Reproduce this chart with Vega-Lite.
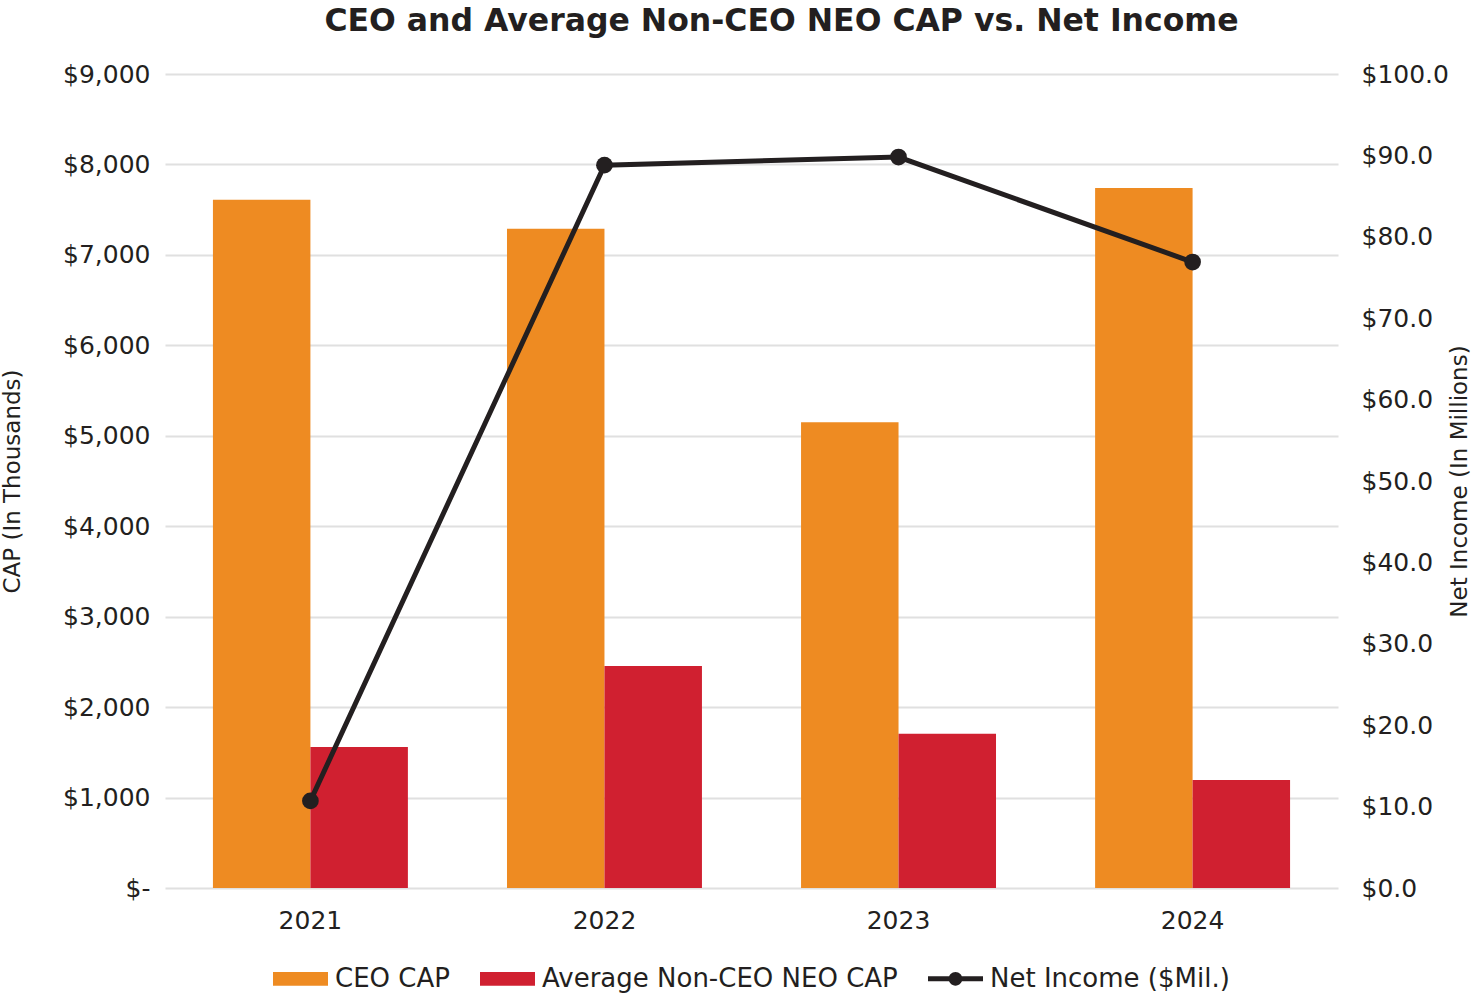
{
  "$schema": "https://vega.github.io/schema/vega-lite/v6.json",
  "autosize": "none",
  "width": 1173,
  "height": 814,
  "padding": {"left": 165, "top": 74, "right": 136, "bottom": 106},
  "background": "white",
  "title": {
    "text": "CEO and Average Non-CEO NEO CAP vs. Net Income",
    "font": "DejaVu Sans",
    "fontSize": 31.5,
    "fontWeight": "bold",
    "color": "#231F20",
    "anchor": "middle",
    "dx": 30,
    "offset": 25
  },
  "data": {
    "values": [
      {"year": "2021", "series": "CEO CAP", "value": 7610},
      {"year": "2022", "series": "CEO CAP", "value": 7290},
      {"year": "2023", "series": "CEO CAP", "value": 5150},
      {"year": "2024", "series": "CEO CAP", "value": 7740},
      {"year": "2021", "series": "Average Non-CEO NEO CAP", "value": 1560},
      {"year": "2022", "series": "Average Non-CEO NEO CAP", "value": 2455},
      {"year": "2023", "series": "Average Non-CEO NEO CAP", "value": 1705},
      {"year": "2024", "series": "Average Non-CEO NEO CAP", "value": 1195},
      {"year": "2021", "series": "Net Income ($Mil.)", "value": 10.7},
      {"year": "2022", "series": "Net Income ($Mil.)", "value": 88.8},
      {"year": "2023", "series": "Net Income ($Mil.)", "value": 89.8},
      {"year": "2024", "series": "Net Income ($Mil.)", "value": 76.9}
    ]
  },
  "encoding": {
    "x": {
      "field": "year",
      "type": "nominal",
      "scale": {"paddingInner": 0.337, "paddingOuter": 0.163},
      "axis": {
        "title": null,
        "labelAngle": 0,
        "labelFont": "DejaVu Sans",
        "labelFontSize": 25,
        "labelColor": "#231F20",
        "labelPadding": 20,
        "ticks": false,
        "domain": false
      }
    },
    "color": {
      "field": "series",
      "type": "nominal",
      "scale": {
        "domain": ["CEO CAP", "Average Non-CEO NEO CAP", "Net Income ($Mil.)"],
        "range": ["#EE8B22", "#D02030", "#231F20"]
      },
      "legend": {
        "title": null,
        "orient": "bottom",
        "direction": "horizontal",
        "offset": 18,
        "labelFont": "DejaVu Sans",
        "labelFontSize": 26,
        "labelColor": "#231F20",
        "labelOffset": 7,
        "labelLimit": 500,
        "columnPadding": 30,
        "symbolSize": 3025,
        "symbolStrokeWidth": 0,
        "encode": {
          "symbols": {
            "update": {
              "shape": {"signal": "datum.value === 'Net Income ($Mil.)' ? 'M-1,-0.09H1V0.09H-1Z M0.25,0A0.25,0.25 0 1,1 -0.25,0A0.25,0.25 0 1,1 0.25,0Z' : 'M-1,-0.25H1V0.25H-1Z'"},
              "fill": {"signal": "scale('color', datum.value)"},
              "fillOpacity": {"value": 1},
              "strokeWidth": {"value": 0}
            }
          }
        }
      }
    }
  },
  "layer": [
    {
      "transform": [{"filter": "datum.series !== 'Net Income ($Mil.)'"}],
      "mark": {"type": "bar"},
      "encoding": {
        "xOffset": {
          "field": "series",
          "type": "nominal",
          "scale": {"domain": ["CEO CAP", "Average Non-CEO NEO CAP"], "paddingInner": 0, "paddingOuter": 0}
        },
        "y": {
          "field": "value",
          "type": "quantitative",
          "scale": {"domain": [0, 9000], "nice": false},
          "axis": {
            "title": "CAP (In Thousands)",
            "titleFont": "DejaVu Sans",
            "titleFontSize": 23,
            "titleFontWeight": "normal",
            "titleColor": "#231F20",
            "titleX": -141,
            "values": [0, 1000, 2000, 3000, 4000, 5000, 6000, 7000, 8000, 9000],
            "labelExpr": "datum.value === 0 ? '$-' : '$' + format(datum.value, ',')",
            "labelFont": "DejaVu Sans",
            "labelFontSize": 25,
            "labelColor": "#231F20",
            "labelPadding": 15,
            "ticks": false,
            "domain": false,
            "grid": true,
            "gridColor": "#E0E0E0",
            "gridWidth": 2
          }
        }
      }
    },
    {
      "transform": [{"filter": "datum.series === 'Net Income ($Mil.)'"}],
      "mark": {"type": "line", "strokeWidth": 5, "point": {"filled": true, "size": 280}},
      "encoding": {
        "y": {
          "field": "value",
          "type": "quantitative",
          "scale": {"domain": [0, 100], "nice": false},
          "axis": {
            "orient": "right",
            "title": "Net Income (In Millions)",
            "titleFont": "DejaVu Sans",
            "titleFontSize": 23,
            "titleFontWeight": "normal",
            "titleColor": "#231F20",
            "titleAngle": -90,
            "titleX": 133,
            "values": [0, 10, 20, 30, 40, 50, 60, 70, 80, 90, 100],
            "labelExpr": "'$' + format(datum.value, '.1f')",
            "labelFont": "DejaVu Sans",
            "labelFontSize": 25,
            "labelColor": "#231F20",
            "labelPadding": 23,
            "ticks": false,
            "domain": false,
            "grid": false
          }
        }
      }
    }
  ],
  "resolve": {"scale": {"y": "independent"}},
  "config": {
    "view": {"stroke": null},
    "legend": {"layout": {"bottom": {"anchor": "middle"}}}
  }
}
